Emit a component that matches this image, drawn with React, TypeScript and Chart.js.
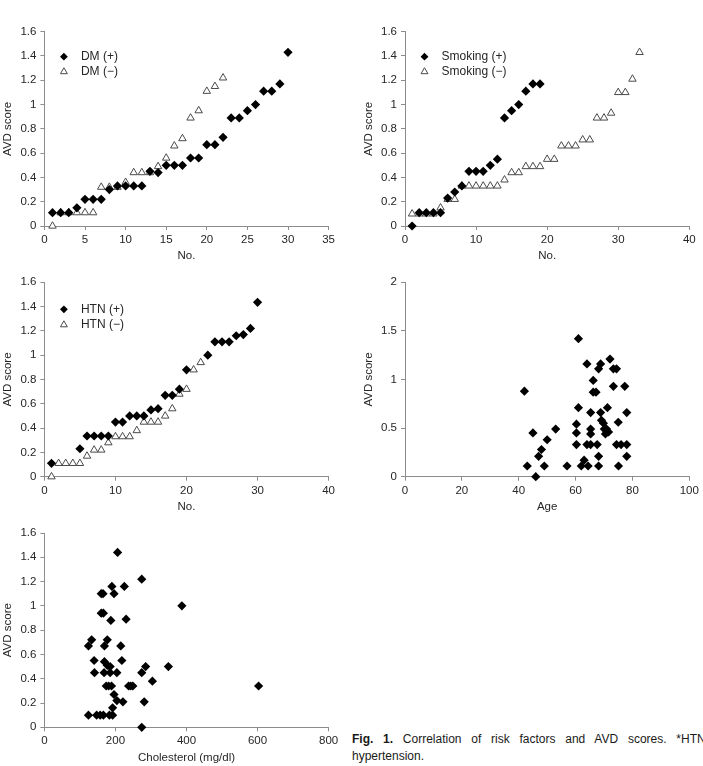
import React, { useEffect, useRef } from 'react';
import { Chart, registerables } from 'chart.js';

Chart.register(...registerables);

const FONT = "'Liberation Sans', Arial, Helvetica, sans-serif";
const INK = '#262626';
const AXIS = '#8c8c8c';

// ---- DM ----
const dmPosNo = [1, 2, 3, 4, 5, 6, 7, 8, 9, 10, 11, 12, 13, 14, 15, 16, 17, 18, 19, 20, 21, 22, 23, 24, 25, 26, 27, 28, 29, 30];
const dmPosScore = [0.11, 0.11, 0.11, 0.15, 0.22, 0.22, 0.22, 0.3, 0.33, 0.33, 0.33, 0.33, 0.45, 0.44, 0.5, 0.5, 0.5, 0.56, 0.56, 0.67, 0.67, 0.73, 0.89, 0.89, 0.95, 1.0, 1.11, 1.11, 1.17, 1.43];
const dmNegNo = [1, 2, 3, 4, 5, 6, 7, 8, 9, 10, 11, 12, 13, 14, 15, 16, 17, 18, 19, 20, 21, 22];
const dmNegScore = [0, 0.11, 0.11, 0.11, 0.11, 0.11, 0.32, 0.32, 0.32, 0.36, 0.44, 0.44, 0.44, 0.49, 0.56, 0.66, 0.72, 0.89, 0.95, 1.11, 1.15, 1.22];

// ---- Smoking ----
const smkPosNo = [1, 2, 3, 4, 5, 6, 7, 8, 9, 10, 11, 12, 13, 14, 15, 16, 17, 18, 19];
const smkPosScore = [0, 0.11, 0.11, 0.11, 0.11, 0.23, 0.28, 0.33, 0.45, 0.45, 0.45, 0.5, 0.55, 0.89, 0.95, 1.0, 1.11, 1.17, 1.17];
const smkNegNo = [1, 2, 3, 4, 5, 6, 7, 8, 9, 10, 11, 12, 13, 14, 15, 16, 17, 18, 19, 20, 21, 22, 23, 24, 25, 26, 27, 28, 29, 30, 31, 32, 33];
const smkNegScore = [0.1, 0.1, 0.1, 0.1, 0.15, 0.22, 0.22, 0.33, 0.33, 0.33, 0.33, 0.33, 0.33, 0.38, 0.44, 0.44, 0.49, 0.49, 0.49, 0.55, 0.55, 0.66, 0.66, 0.66, 0.71, 0.71, 0.89, 0.89, 0.93, 1.1, 1.1, 1.21, 1.43];

// ---- HTN ----
const htnPosNo = [1, 5, 6, 7, 8, 9, 10, 11, 12, 13, 14, 15, 16, 17, 18, 19, 20, 23, 24, 25, 26, 27, 28, 29, 30];
const htnPosScore = [0.11, 0.23, 0.335, 0.335, 0.335, 0.335, 0.45, 0.45, 0.5, 0.5, 0.5, 0.55, 0.56, 0.67, 0.67, 0.72, 0.88, 1.0, 1.11, 1.11, 1.11, 1.16, 1.17, 1.22, 1.435];
const htnNegNo = [1, 2, 3, 4, 5, 6, 7, 8, 9, 10, 11, 12, 13, 14, 15, 16, 17, 18, 19, 20, 21, 22];
const htnNegScore = [0, 0.11, 0.11, 0.11, 0.11, 0.17, 0.22, 0.22, 0.28, 0.33, 0.33, 0.33, 0.38, 0.45, 0.45, 0.45, 0.5, 0.56, 0.68, 0.72, 0.88, 0.94];

// ---- Age ----
const ageYears = [42, 43, 45, 46, 47, 48, 49, 50, 53, 57, 60.3, 60.3, 60.3, 61, 61, 62, 63, 64, 64, 64.4, 65.3, 65.3, 65.3, 65.3, 66.2, 66.2, 67.2, 67.6, 68.1, 68.1, 68.1, 68.8, 68.8, 69.1, 69.8, 70.1, 70.5, 70.9, 71.2, 71.6, 72.1, 73.3, 73.3, 74.4, 74.4, 75, 75.1, 76, 77.3, 78, 78, 78];
const ageScore = [0.88, 0.11, 0.45, 0, 0.21, 0.28, 0.11, 0.38, 0.49, 0.11, 0.54, 0.45, 0.33, 1.42, 0.71, 0.11, 0.17, 1.16, 0.33, 0.11, 0.66, 0.49, 0.44, 0.33, 0.99, 0.87, 0.87, 0.33, 0.11, 0.21, 1.11, 1.16, 0.66, 0.58, 0.55, 0.49, 0.44, 0.49, 0.71, 0.46, 1.21, 1.11, 0.93, 1.11, 0.33, 0.56, 0.11, 0.33, 0.93, 0.66, 0.33, 0.21];

// ---- Cholesterol ----
const cholMgdl = [124, 124, 133, 140, 141, 147, 157, 160, 165, 160, 166, 166, 168, 169, 169, 174, 177, 177, 181, 183, 185, 185, 187, 189, 190, 192, 192, 196, 196, 204, 204, 206, 215, 218, 221, 225, 230, 237, 243, 249, 274, 274, 274, 281, 285, 304, 349, 387, 603];
const cholScore = [0.1, 0.67, 0.72, 0.55, 0.45, 0.1, 0.1, 1.1, 1.1, 0.94, 0.94, 0.1, 0.45, 0.67, 0.54, 0.34, 0.72, 0.51, 0.34, 0.1, 0.45, 0.5, 0.88, 0.34, 1.16, 0.1, 0.16, 1.1, 0.27, 0.45, 0.22, 1.44, 0.67, 0.55, 0.21, 1.16, 0.89, 0.34, 0.34, 0.34, 1.22, 0.45, 0, 0.21, 0.5, 0.38, 0.5, 1.0, 0.34];

// ---- axis ticks ----
const dmNoTicks = [0, 5, 10, 15, 20, 25, 30, 35];
const noTicks40 = [0, 10, 20, 30, 40];
const scoreTicks = [0, 0.2, 0.4, 0.6, 0.8, 1, 1.2, 1.4, 1.6];
const ageTicks = [0, 20, 40, 60, 80, 100];
const ageScoreTicks = [0, 0.5, 1, 1.5, 2];
const cholTicks = [0, 200, 400, 600, 800];

type Kind = 'diamond' | 'triangle';
interface Series { label?: string; kind: Kind; xs: number[]; ys: number[] }
interface Box { l: number; r: number; t: number; b: number }
interface PanelSpec {
  id: string;
  box: Box;
  xTicks: number[];
  yTicks: number[];
  xTitle: string;
  series: Series[];
  legendRows?: number[];
}

const LEFT_COL = { l: 44.4, r: 328.6 };
const RIGHT_COL = { l: 405, r: 689.3 };
const ROWS = [
  { t: 31.7, b: 226 },
  { t: 282.3, b: 476.7 },
  { t: 533, b: 727.3 },
];

const panels: PanelSpec[] = [
  {
    id: 'dm',
    box: { ...LEFT_COL, ...ROWS[0] },
    xTicks: dmNoTicks,
    yTicks: scoreTicks,
    xTitle: 'No.',
    series: [
      { label: 'DM (+)', kind: 'diamond', xs: dmPosNo, ys: dmPosScore },
      { label: 'DM (\u2212)', kind: 'triangle', xs: dmNegNo, ys: dmNegScore },
    ],
    legendRows: [25, 40],
  },
  {
    id: 'smoking',
    box: { ...RIGHT_COL, ...ROWS[0] },
    xTicks: noTicks40,
    yTicks: scoreTicks,
    xTitle: 'No.',
    series: [
      { label: 'Smoking (+)', kind: 'diamond', xs: smkPosNo, ys: smkPosScore },
      { label: 'Smoking (\u2212)', kind: 'triangle', xs: smkNegNo, ys: smkNegScore },
    ],
    legendRows: [25, 40],
  },
  {
    id: 'htn',
    box: { ...LEFT_COL, ...ROWS[1] },
    xTicks: noTicks40,
    yTicks: scoreTicks,
    xTitle: 'No.',
    series: [
      { label: 'HTN (+)', kind: 'diamond', xs: htnPosNo, ys: htnPosScore },
      { label: 'HTN (\u2212)', kind: 'triangle', xs: htnNegNo, ys: htnNegScore },
    ],
    legendRows: [27, 42.5],
  },
  {
    id: 'age',
    box: { ...RIGHT_COL, ...ROWS[1] },
    xTicks: ageTicks,
    yTicks: ageScoreTicks,
    xTitle: 'Age',
    series: [{ kind: 'diamond', xs: ageYears, ys: ageScore }],
  },
  {
    id: 'chol',
    box: { ...LEFT_COL, ...ROWS[2] },
    xTicks: cholTicks,
    yTicks: scoreTicks,
    xTitle: 'Cholesterol (mg/dl)',
    series: [{ kind: 'diamond', xs: cholMgdl, ys: cholScore }],
  },
];

// canvas margins around each plot area
const Y_AXIS_W = 44;
const PAD_TOP = 16;
const PAD_RIGHT = 16;
const X_AXIS_H = 38;

function geometry(box: Box) {
  const cl = Math.floor(box.l - Y_AXIS_W);
  const ct = Math.floor(box.t - PAD_TOP);
  const cw = Math.ceil(box.r - cl + PAD_RIGHT);
  const ch = Math.ceil(box.b + X_AXIS_H - ct);
  return {
    cl, ct, cw, ch,
    yw: box.l - cl,
    padTop: box.t - ct,
    padRight: cw - (box.r - cl),
    xh: ch - (box.b - ct),
  };
}

const DIAMOND_R = 4.6;
const TRIANGLE_R = 4.3;
const TRIANGLE_EDGE = '#4a4a4a';

function drawMarker(ctx: CanvasRenderingContext2D, kind: Kind, x: number, y: number, r: number) {
  ctx.beginPath();
  if (kind === 'diamond') {
    ctx.moveTo(x, y - r);
    ctx.lineTo(x + r, y);
    ctx.lineTo(x, y + r);
    ctx.lineTo(x - r, y);
    ctx.closePath();
    ctx.fillStyle = '#000';
    ctx.fill();
  } else {
    const s = Math.sin((2 * Math.PI) / 3) * r;
    ctx.moveTo(x, y - r);
    ctx.lineTo(x + s, y + r / 2);
    ctx.lineTo(x - s, y + r / 2);
    ctx.closePath();
    ctx.fillStyle = '#fff';
    ctx.fill();
    ctx.strokeStyle = TRIANGLE_EDGE;
    ctx.lineWidth = 1;
    ctx.stroke();
  }
}

function fmt(v: number) {
  return String(Math.round(v * 100) / 100);
}

function Panel({ spec }: { spec: PanelSpec }) {
  const ref = useRef<HTMLCanvasElement | null>(null);
  const g = geometry(spec.box);

  useEffect(() => {
    const canvas = ref.current;
    if (!canvas) return;

    const legendPlugin = {
      id: 'insetLegend_' + spec.id,
      afterDatasetsDraw(chart: any) {
        if (!spec.legendRows) return;
        const { ctx, chartArea } = chart;
        ctx.save();
        spec.series.forEach((s, i) => {
          if (!s.label) return;
          const y = chartArea.top + spec.legendRows![i];
          drawMarker(ctx, s.kind, chartArea.left + 19.5, y, s.kind === 'diamond' ? 3.9 : 4);
          ctx.fillStyle = INK;
          ctx.font = `12px ${FONT}`;
          ctx.textAlign = 'left';
          ctx.textBaseline = 'middle';
          ctx.fillText(s.label, chartArea.left + 36.5, y);
        });
        ctx.restore();
      },
    };

    const axisFont = { family: FONT, size: 11.5 };
    const gridOpts = {
      display: true,
      drawOnChartArea: false,
      drawTicks: true,
      tickLength: 4,
      color: AXIS,
      lineWidth: 1,
    };

    const chart = new Chart(canvas, {
      type: 'scatter',
      data: {
        datasets: spec.series.map((s) => ({
          label: s.label || '',
          data: s.xs.map((x, i) => ({ x, y: s.ys[i] })),
          pointStyle: s.kind === 'diamond' ? 'rectRot' : 'triangle',
          pointRadius: s.kind === 'diamond' ? DIAMOND_R : TRIANGLE_R,
          pointBackgroundColor: s.kind === 'diamond' ? '#000' : '#fff',
          pointBorderColor: s.kind === 'diamond' ? '#000' : TRIANGLE_EDGE,
          pointBorderWidth: s.kind === 'diamond' ? 0 : 1,
          showLine: false,
          clip: false as any,
        })),
      },
      options: {
        animation: false,
        responsive: false,
        maintainAspectRatio: false,
        devicePixelRatio: 1,
        events: [],
        layout: { padding: { left: 0, top: g.padTop, right: g.padRight, bottom: 0 } },
        plugins: {
          legend: { display: false },
          tooltip: { enabled: false },
        },
        scales: {
          x: {
            type: 'linear',
            min: spec.xTicks[0],
            max: spec.xTicks[spec.xTicks.length - 1],
            afterBuildTicks: (s: any) => {
              s.ticks = spec.xTicks.map((value) => ({ value }));
            },
            afterFit: (s: any) => {
              s.height = g.xh;
            },
            ticks: {
              color: INK,
              font: axisFont,
              padding: 3,
              maxRotation: 0,
              autoSkip: false,
              callback: (v: any) => fmt(Number(v)),
            },
            grid: gridOpts,
            border: { display: true, color: AXIS, width: 1 },
            title: {
              display: true,
              text: spec.xTitle,
              color: INK,
              font: axisFont,
              padding: { top: 0, bottom: 1 },
            },
          },
          y: {
            type: 'linear',
            min: spec.yTicks[0],
            max: spec.yTicks[spec.yTicks.length - 1],
            afterBuildTicks: (s: any) => {
              s.ticks = spec.yTicks.map((value) => ({ value }));
            },
            afterFit: (s: any) => {
              s.width = g.yw;
            },
            ticks: {
              color: INK,
              font: axisFont,
              padding: 4,
              autoSkip: false,
              callback: (v: any) => fmt(Number(v)),
            },
            grid: gridOpts,
            border: { display: true, color: AXIS, width: 1 },
            title: {
              display: true,
              text: 'AVD score',
              color: INK,
              font: axisFont,
              padding: { top: 1, bottom: 0 },
            },
          },
        },
      } as any,
      plugins: [legendPlugin],
    });

    return () => chart.destroy();
  }, []);

  return (
    <canvas
      ref={ref}
      width={g.cw}
      height={g.ch}
      style={{ position: 'absolute', left: g.cl, top: g.ct, width: g.cw, height: g.ch }}
    />
  );
}

export default function App() {
  return (
    <div
      style={{
        position: 'fixed',
        left: 0,
        top: 0,
        width: 703,
        height: 766,
        overflow: 'hidden',
        background: '#fff',
        fontFamily: FONT,
      }}
    >
      {panels.map((p) => (
        <Panel key={p.id} spec={p} />
      ))}
      <div
        style={{
          position: 'absolute',
          left: 352,
          top: 731,
          width: 357,
          fontSize: 12,
          lineHeight: '17px',
          textAlign: 'justify',
          color: '#1a1a1a',
        }}
      >
        <b>Fig. 1.</b> Correlation of risk factors and AVD scores. *HTN: hypertension.
      </div>
    </div>
  );
}
